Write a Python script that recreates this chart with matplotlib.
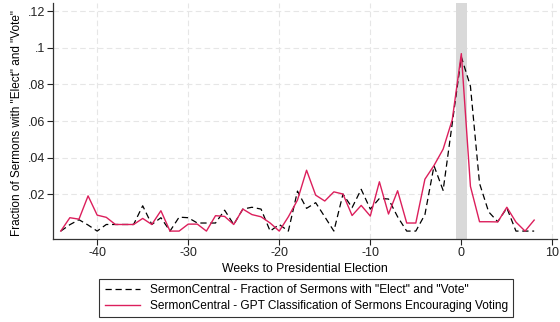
import matplotlib
matplotlib.use('Agg')
import matplotlib.pyplot as plt
from matplotlib.ticker import FixedLocator, FuncFormatter

plt.rcParams['font.family'] = ['Liberation Sans', 'DejaVu Sans']
plt.rcParams['axes.unicode_minus'] = False

# Weekly series, -44 .. +8 weeks around the election
weeks = list(range(-44, 9))

elect_vote_share = [
    0.0, 0.0035, 0.0062, 0.0033, 0.0, 0.0036, 0.0036, 0.0036, 0.0036, 0.0138,
    0.0036, 0.0073, 0.0, 0.0076, 0.0073, 0.0044, 0.0044, 0.0044, 0.0114, 0.0036,
    0.0120, 0.0130, 0.0120, 0.0, 0.0036, 0.0, 0.0218, 0.0124, 0.0155, 0.0078,
    0.0, 0.0202, 0.0128, 0.0228, 0.0120, 0.0178, 0.0175, 0.0078, 0.0, 0.0,
    0.0090, 0.0356, 0.0222, 0.0587, 0.0950, 0.0790, 0.0260, 0.0105, 0.0051, 0.0126,
    0.0, 0.0, 0.0,
]

gpt_share = [
    0.0, 0.0073, 0.0065, 0.0192, 0.0087, 0.0075, 0.0036, 0.0036, 0.0036, 0.0069,
    0.0036, 0.0111, 0.0, 0.0, 0.0038, 0.0038, 0.0, 0.0084, 0.0080, 0.0036,
    0.0120, 0.0090, 0.0078, 0.0044, 0.0, 0.0078, 0.0169, 0.0332, 0.0196, 0.0164,
    0.0214, 0.0202, 0.0085, 0.0140, 0.0082, 0.0269, 0.0093, 0.0220, 0.0044, 0.0044,
    0.0283, 0.0358, 0.0447, 0.0607, 0.0968, 0.0244, 0.0051, 0.0051, 0.0050, 0.0130,
    0.0049, 0.0, 0.0060,
]

x_ticks = [-40, -30, -20, -10, 0, 10]
y_ticks = [0.02, 0.04, 0.06, 0.08, 0.10, 0.12]

label_kw = 'SermonCentral - Fraction of Sermons with "Elect" and "Vote"'
label_gpt = 'SermonCentral - GPT Classification of Sermons Encouraging Voting'

red = '#DC1F5C'

fig = plt.figure(figsize=(5.6, 3.22), dpi=100)
ax = fig.add_axes([0.0955, 0.259, 0.899, 0.731])

# election week
ax.axvspan(-0.6, 0.6, color='#D9D9D9', zorder=1, lw=0)

ax.plot(weeks, elect_vote_share, color='black', lw=0.9, linestyle=(0, (5, 3)),
        label=label_kw, zorder=3)
ax.plot(weeks, gpt_share, color=red, lw=1.0, label=label_gpt, zorder=4)

ax.set_xlim(-44.8, 10.5)
ax.set_ylim(-0.0041, 0.1243)

ax.xaxis.set_major_locator(FixedLocator(x_ticks))
ax.yaxis.set_major_locator(FixedLocator(y_ticks))
ax.yaxis.set_major_formatter(FuncFormatter(lambda v, p: ('%g' % round(v, 3)).lstrip('0')))

ax.grid(True, color='#E6E6E6', linestyle=(0, (5, 3)), lw=0.8, zorder=0)
ax.set_axisbelow(True)

for side in ['top', 'right']:
    ax.spines[side].set_visible(False)
for side in ['left', 'bottom']:
    ax.spines[side].set_color('#333333')
    ax.spines[side].set_linewidth(0.9)

ax.tick_params(axis='both', labelsize=9, colors='#222222', length=4, width=0.8, pad=2)

ax.set_xlabel('Weeks to Presidential Election', fontsize=8.8, labelpad=3)
ax.set_ylabel('Fraction of Sermons with "Elect" and "Vote"', fontsize=8.5)
ax.yaxis.set_label_coords(-0.06, 0.49)

leg = fig.legend(loc='lower center', bbox_to_anchor=(0.547, -0.004), ncol=1,
                 fontsize=8.6, frameon=True, fancybox=False, edgecolor='black',
                 handlelength=3.0, handletextpad=0.8, borderpad=0.45,
                 labelspacing=0.3)
leg.get_frame().set_linewidth(0.8)

fig.savefig('out.png', dpi=100)
